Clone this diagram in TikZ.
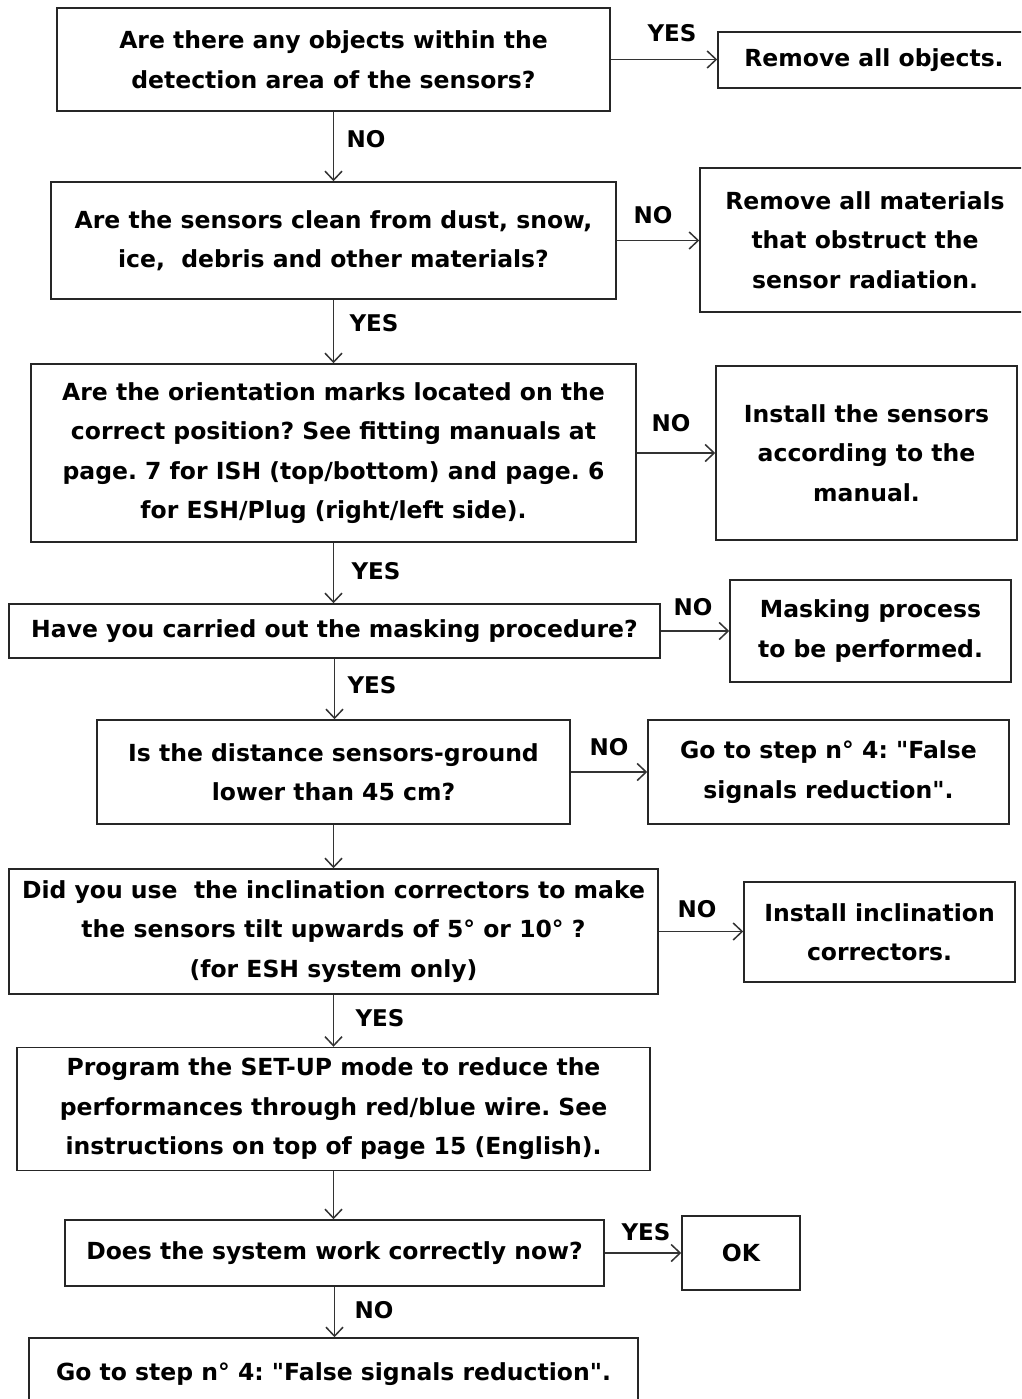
\documentclass[tikz,border=0pt]{standalone}
\usepackage{fontspec}
\setmainfont{DejaVu Sans}[Ligatures=TeXOff]
\usetikzlibrary{arrows.meta}
\begin{document}
\frenchspacing
\begin{tikzpicture}[x=1pt,y=-1pt,
 box/.style={draw=black!85, line width=1.5pt, align=center, inner sep=0pt, font=\fontsize{23.5}{39.5}\selectfont\bfseries},
 arr/.style={draw=black!80,line width=1.5pt,-{Straight Barb[length=9pt,width=17pt,line width=1.5pt]}},
 lab/.style={font=\fontsize{23}{30}\selectfont\bfseries, inner sep=0pt}]
\useasboundingbox (0,0) rectangle (1021,1399);
\clip (0,0) rectangle (1021,1399);
\fill[white] (0,0) rectangle (1021,1399);

\node[box, minimum width=553, minimum height=103] (q1) at (333.5,59.5) {Are there any objects within the\\detection area of the sensors?};
\node[box, minimum width=312, minimum height=56] (r1) at (874,60) {Remove all objects.};
\node[box, minimum width=565, minimum height=117] (q2) at (333.5,240.5) {Are the sensors clean from dust, snow,\\ice,\ \ debris and other materials?};
\node[box, minimum width=330, minimum height=144] (r2) at (865,240) {Remove all materials\\that obstruct the\\sensor radiation.};
\node[box, minimum width=605, minimum height=178] (q3) at (333.5,453) {Are the orientation marks located on the\\correct position? See fitting manuals at\\page. 7 for ISH (top/bottom) and page. 6\\for ESH/Plug (right/left side).};
\node[box, minimum width=301, minimum height=174] (r3) at (866.5,453) {Install the sensors\\according to the\\manual.};
\node[box, minimum width=651, minimum height=54] (q4) at (334.5,631) {Have you carried out the masking procedure?};
\node[box, minimum width=281, minimum height=102] (r4) at (870.5,631) {Masking process\\to be performed.};
\node[box, minimum width=473, minimum height=104] (q5) at (333.5,772) {Is the distance sensors-ground\\lower than 45 cm?};
\node[box, minimum width=361, minimum height=104] (r5) at (828.5,772) {Go to step n° 4: "False\\signals reduction".};
\node[box, minimum width=649, minimum height=125] (q6) at (333.5,931.5) {Did you use\ \ the inclination correctors to make\\the sensors tilt upwards of 5° or 10° ?\\(for ESH system only)};
\node[box, minimum width=271, minimum height=100] (r6) at (879.5,932) {Install inclination\\correctors.};
\node[box, minimum width=633, minimum height=123] (q7) at (333.5,1109) {Program the SET-UP mode to reduce the\\performances through red/blue wire. See\\instructions on top of page 15 (English).};
\node[box, minimum width=539, minimum height=66] (q8) at (334.5,1253) {Does the system work correctly now?};
\node[box, minimum width=118, minimum height=74] (ok) at (741,1253) {OK};
\node[box, minimum width=609, minimum height=72] (q9) at (333.5,1374) {Go to step n° 4: "False signals reduction".};

\draw[arr] (q1.east) -- (q1.east -| r1.west);
\draw[arr] (q2.east) -- (q2.east -| r2.west);
\draw[arr] (q3.east) -- (q3.east -| r3.west);
\draw[arr] (q4.east) -- (q4.east -| r4.west);
\draw[arr] (q5.east) -- (q5.east -| r5.west);
\draw[arr] (q6.east) -- (q6.east -| r6.west);
\draw[arr] (q8.east) -- (q8.east -| ok.west);

\draw[arr] (q1.south) -- (q1.south |- q2.north);
\draw[arr] (q2.south) -- (q2.south |- q3.north);
\draw[arr] (q3.south) -- (q3.south |- q4.north);
\draw[arr] (q4.south) -- (q4.south |- q5.north);
\draw[arr] (q5.south) -- (q5.south |- q6.north);
\draw[arr] (q6.south) -- (q6.south |- q7.north);
\draw[arr] (q7.south) -- (q7.south |- q8.north);
\draw[arr] (q8.south) -- (q8.south |- q9.north);

\node[lab] (l1) at (672,33) {YES};
\node[lab] (l2) at (366,139) {NO};
\node[lab] (l3) at (653,215) {NO};
\node[lab] (l4) at (374,323) {YES};
\node[lab] (l5) at (671,423) {NO};
\node[lab] (l6) at (376,571) {YES};
\node[lab] (l7) at (693,607) {NO};
\node[lab] (l8) at (372,685) {YES};
\node[lab] (l9) at (609,747) {NO};
\node[lab] (l10) at (697,909) {NO};
\node[lab] (l11) at (380,1018) {YES};
\node[lab] (l12) at (646,1232) {YES};
\node[lab] (l13) at (374,1310) {NO};
\end{tikzpicture}
\end{document}
